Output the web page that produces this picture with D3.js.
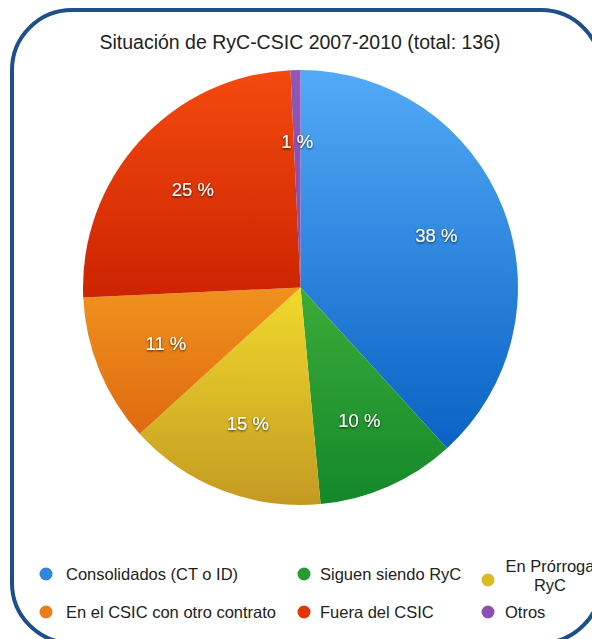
<!DOCTYPE html>
<html>
<head>
<meta charset="utf-8">
<script src="https://cdn.jsdelivr.net/npm/d3@7"></script>
<style>
  body { margin: 0; background: #fff; }
  svg { display: block; font-family: "Liberation Sans", Arial, Helvetica, sans-serif; }
</style>
</head>
<body>
<div id="chart"></div>
<script>
// categories and counts (total 136)
const categories = [
  "Consolidados (CT o ID)",
  "Siguen siendo RyC",
  "En Prórroga RyC",
  "En el CSIC con otro contrato",
  "Fuera del CSIC",
  "Otros"
];
const counts = [52, 14, 20, 15, 34, 1];
const colorsTop = ["#52aaf7", "#3cab3a", "#f1da2c", "#f0921d", "#f44a0f", "#8f58b8"];
const colorsBottom = ["#0a62c4", "#14882a", "#c49a22", "#df6a10", "#cc2302", "#814aac"];
const title = "Situación de RyC-CSIC 2007-2010 (total: 136)";

const width = 592;
const height = 639;
const cx = 300.5, cy = 287.5, radius = 217.5;

const svg = d3.select("#chart")
  .append("svg")
  .attr("width", width)
  .attr("height", height);

const defs = svg.append("defs");

// vertical gradient for every slice
counts.forEach(function(d, i) {
  const g = defs.append("linearGradient")
    .attr("id", "grad" + i)
    .attr("x1", 0).attr("y1", 0)
    .attr("x2", 0).attr("y2", 1);
  g.append("stop").attr("offset", "0%").attr("stop-color", colorsTop[i]);
  g.append("stop").attr("offset", "100%").attr("stop-color", colorsBottom[i]);
});

// shadow for the white labels
const shadow = defs.append("filter").attr("id", "shadow")
  .attr("x", "-20%").attr("y", "-30%").attr("width", "140%").attr("height", "160%");
shadow.append("feDropShadow")
  .attr("dx", 0).attr("dy", 1)
  .attr("stdDeviation", 1.2)
  .attr("flood-color", "#000")
  .attr("flood-opacity", 0.75);

// rounded frame
svg.append("rect")
  .attr("x", 12).attr("y", 10)
  .attr("width", 589).attr("height", 633)
  .attr("rx", 60).attr("ry", 60)
  .attr("fill", "#fff")
  .attr("stroke", "#1f4f8b")
  .attr("stroke-width", 4);

svg.append("text")
  .attr("x", 300)
  .attr("y", 49)
  .attr("text-anchor", "middle")
  .attr("font-size", 19.5)
  .attr("fill", "#222")
  .text(title);

const total = d3.sum(counts);
const pie = d3.pie().sort(null).value(function(d) { return d; });
const arcs = pie(counts);
const arc = d3.arc().innerRadius(0).outerRadius(radius);
const labelArc = d3.arc().innerRadius(radius * 0.67).outerRadius(radius * 0.67);

const g = svg.append("g").attr("transform", "translate(" + cx + "," + cy + ")");

g.selectAll("path")
  .data(arcs)
  .enter()
  .append("path")
  .attr("d", arc)
  .attr("fill", function(d, i) { return "url(#grad" + i + ")"; });

g.selectAll("text")
  .data(arcs)
  .enter()
  .append("text")
  .attr("transform", function(d) { return "translate(" + labelArc.centroid(d) + ")"; })
  .attr("text-anchor", "middle")
  .attr("dy", "0.36em")
  .attr("font-size", 18.5)
  .attr("fill", "#fff")
  .attr("filter", "url(#shadow)")
  .text(function(d) { return Math.round(d.value / total * 100) + " %"; });

// legend
const legendPos = [
  { x: 46, y: 574, dx: 20 },
  { x: 304, y: 574, dx: 16 },
  { x: 488, y: 580, dx: 17 },
  { x: 46, y: 612, dx: 20 },
  { x: 304, y: 612, dx: 16 },
  { x: 488, y: 612, dx: 17 }
];

const legend = svg.append("g")
  .selectAll("g")
  .data(categories)
  .enter()
  .append("g")
  .attr("transform", function(d, i) { return "translate(" + legendPos[i].x + "," + legendPos[i].y + ")"; });

legend.append("circle")
  .attr("r", 6.5)
  .attr("fill", function(d, i) { return d3.interpolateRgb(colorsTop[i], colorsBottom[i])(0.5); });

legend.each(function(d, i) {
  const t = d3.select(this).append("text")
    .attr("font-size", 16.5)
    .attr("fill", "#222");
  if (i === 2) {
    // wrapped label, centred
    t.attr("text-anchor", "middle");
    t.append("tspan").attr("x", 62).attr("y", -8).text("En Prórroga");
    t.append("tspan").attr("x", 62).attr("y", 11).text("RyC");
  } else {
    t.attr("x", legendPos[i].dx).attr("y", 6).text(d);
  }
});
</script>
</body>
</html>
